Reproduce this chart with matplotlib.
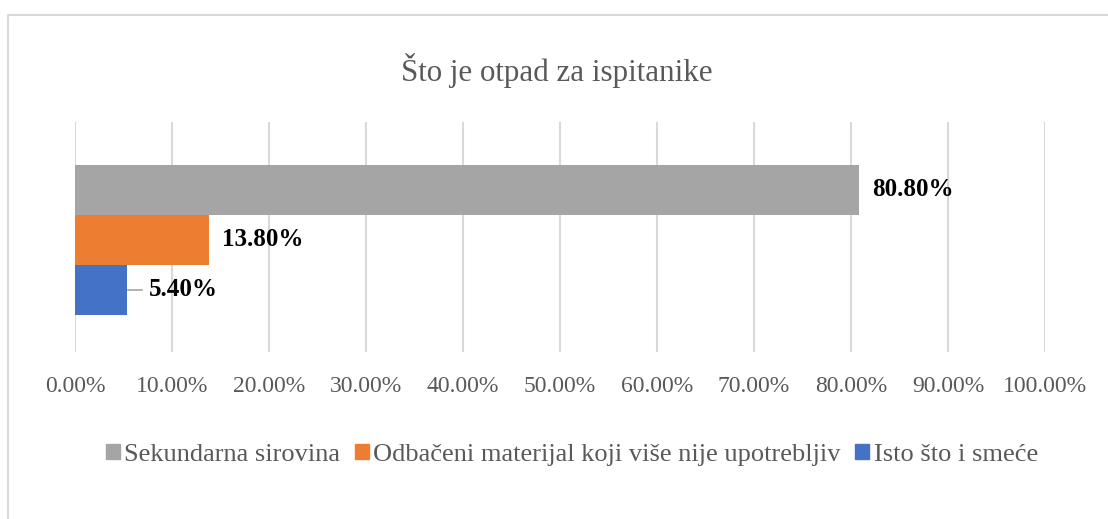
import matplotlib
matplotlib.use("Agg")
import matplotlib.pyplot as plt
from matplotlib.patches import Rectangle
from matplotlib.ticker import FuncFormatter

title = "Što je otpad za ispitanike"
series_names = ["Sekundarna sirovina", "Odbačeni materijal koji više nije upotrebljiv", "Isto što i smeće"]
values = [80.80, 13.80, 5.40]
colors = ["#a5a5a5", "#ed7d31", "#4472c4"]
xticks = [0, 10, 20, 30, 40, 50, 60, 70, 80, 90, 100]

W, H = 1108, 519
fig = plt.figure(figsize=(W / 100, H / 100), dpi=100)
plt.rcParams['font.family'] = ['Liberation Serif', 'DejaVu Serif']

# outer chart border
fig.patches.append(Rectangle((8 / W, -0.1), 1.2, (H - 15) / H + 0.1, transform=fig.transFigure,
                             fill=False, edgecolor="#d9d9d9", linewidth=1.5))

ax = fig.add_axes([75 / W, (H - 352) / H, (1045 - 75) / W, (352 - 122) / H])
ax.set_xlim(0, 100)
ax.set_ylim(-0.5, 0.5)
bh = 50 / 230
offsets = [bh, 0, -bh]
shift = -0.013
for name, v, c, off in zip(series_names, values, colors, offsets):
    ax.barh(off + shift, v, height=bh, color=c, label=name, zorder=3)

for v, off in zip(values, offsets):
    y = off + shift
    if v < 8:
        ax.plot([v + 0.1, v + 1.5], [y, y], color="#a6a6a6", lw=1.2, zorder=3)
        ax.text(v + 2.2, y, f"{v:.2f}%", va="center", ha="left", fontsize=18, fontweight="bold", color="black")
    else:
        ax.text(v + 1.4, y, f"{v:.2f}%", va="center", ha="left", fontsize=18, fontweight="bold", color="black")

ax.set_xticks(xticks)
ax.xaxis.set_major_formatter(FuncFormatter(lambda x, p: f"{x:.2f}%"))
ax.set_yticks([])
ax.tick_params(axis="x", length=0, labelsize=17, labelcolor="#595959", pad=17)
ax.grid(axis="x", color="#d9d9d9", linewidth=1.5, zorder=0)
for s in ax.spines.values():
    s.set_visible(False)

fig.text(557 / W, 1 - 70 / H, title, ha="center", va="center", fontsize=22.3, color="#595959")

handles = [Rectangle((0, 0), 1, 1, color=c) for c in colors]
fig.legend(handles, series_names, loc="center", bbox_to_anchor=(572 / W, 1 - 455 / H), ncol=3,
           frameon=False, fontsize=19, labelcolor="#595959", handlelength=0.52, handleheight=0.52,
           handletextpad=0.18, columnspacing=0.55, borderpad=0, borderaxespad=0)

fig.savefig("out.png", dpi=100)
